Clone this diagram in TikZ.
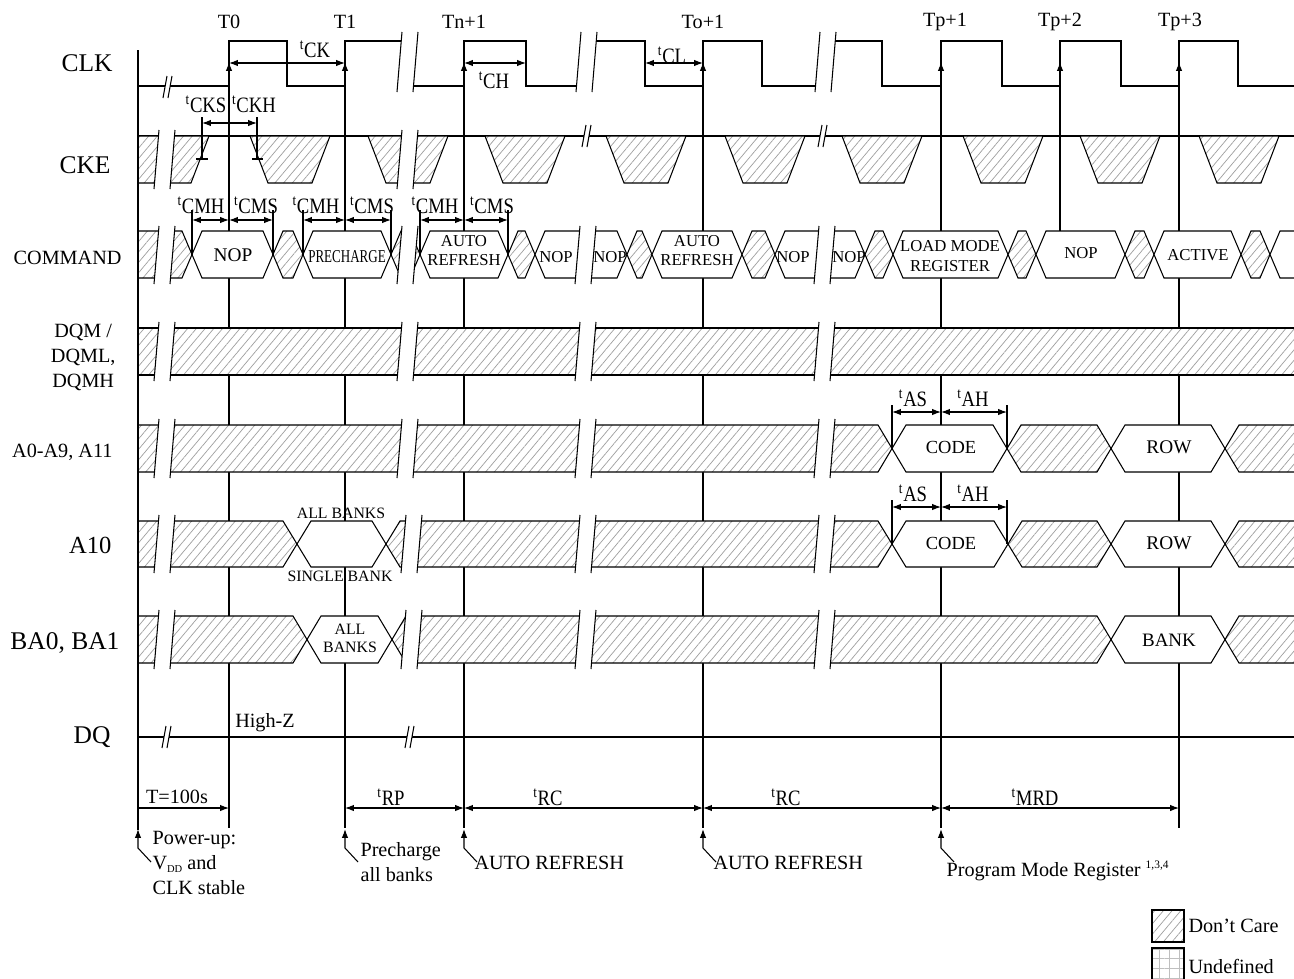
\documentclass[tikz,border=0pt]{standalone}
\usepackage{fontspec}
\setmainfont{Liberation Serif}
\usepackage{tikz}
\usetikzlibrary{
	arrows.meta,		% Arrow tips
	patterns.meta		% Hatching for don't care areas
}

% Bus segment between two crossings: left x, right x, top y, bottom y, half transition, style
\newcommand{\busseg}[6]{%
	\path[#6] (#1,{(#3+#4)/2}) -- ({#1+#5},#3) -- ({#2-#5},#3) -- (#2,{(#3+#4)/2}) -- ({#2-#5},#4) -- ({#1+#5},#4) -- cycle;
}
% Time break across a band: left x (bottom), top y, bottom y
\newcommand{\cutband}[3]{%
	\fill[white] (#1,#3) -- ({#1+16},#3) -- ({#1+21},#2) -- ({#1+5},#2) -- cycle;
	\draw[line width=0.6pt] (#1,#3) -- ({#1+5},#2) ({#1+16},#3) -- ({#1+21},#2);
}
% Time break on a single line: x, y
\newcommand{\cutline}[2]{%
	\fill[white] (#1,{#2+11}) -- ({#1+5},{#2+11}) -- ({#1+9},{#2-11}) -- ({#1+4},{#2-11}) -- cycle;
	\draw[line width=0.6pt] (#1,{#2+11}) -- ({#1+4},{#2-11}) ({#1+5},{#2+11}) -- ({#1+9},{#2-11});
}
\newcommand{\tsym}[1]{\scalebox{0.85}[1]{\textsuperscript{t}#1}}

\begin{document}
\begin{tikzpicture}[x=0.02cm, y=-0.02cm, line width=0.6pt]
	\tikzstyle{dontcare} = [draw, preaction={fill=white}, pattern={Lines[angle=50, distance=3.8pt, line width=0.4pt]}, pattern color=gray!75]
	\tikzstyle{validbus} = [draw, fill=white]
	\tikzstyle{undefbox} = [draw, preaction={fill=white}, pattern={Hatch[angle=0, distance=5.5pt, line width=0.4pt]}, pattern color=gray!50]
	\tikzstyle{clkline} = [line width=1.5pt]
	\tikzstyle{dimarrow} = [{Latex[length=5pt, width=3.6pt]}-{Latex[length=5pt, width=3.6pt]}]
	\tikzstyle{uparrow} = [-{Latex[length=5pt, width=3.6pt]}]
	\tikzstyle{sigbig} = [anchor=east, inner sep=0pt, font=\fontsize{14.5}{17}\selectfont]
	\tikzstyle{sigsmall} = [anchor=east, inner sep=0pt, align=center, font=\fontsize{11.5}{14.2}\selectfont]
	\tikzstyle{edgelbl} = [inner sep=0pt, font=\fontsize{11.5}{14}\selectfont]
	\tikzstyle{tlbl} = [inner sep=0pt, font=\fontsize{12.5}{14}\selectfont]
	\tikzstyle{cmdtxt} = [inner sep=0pt, align=center, font=\fontsize{9.5}{10.8}\selectfont]
	\tikzstyle{note} = [anchor=west, inner sep=0pt, align=left, font=\fontsize{11.5}{14}\selectfont]

	\useasboundingbox (0,0) rectangle (1294,978);

	% Signal names
	\node[sigbig] at (113,63) (clkName) {CLK};
	\node[sigbig] at (111,165) (ckeName) {CKE};
	\node[sigsmall] at (122,258) (cmdName) {COMMAND};
	\node[sigsmall] at (116,357) (dqmName) {DQM /\\DQML,\\DQMH};
	\node[sigsmall] at (113,452) (addrName) {A0-A9, A11};
	\node[sigbig, font=\fontsize{14}{17}\selectfont] at (112,545) (atenName) {A10};
	\node[sigbig] at (120,643) (baName) {BA0, BA1};
	\node[sigbig] at (111,737) (dqName) {DQ};

	% Clock edges
	%% Reference lines
	\foreach \x in {229,345,464,703,941,1179}{
		\draw (\x,86) -- (\x,828);
	}
	\draw (1060,86) -- (1060,232);
	%% Edge names
	\foreach \x/\t [count=\i] in {229/T0, 345/T1, 464/Tn+1, 703/To+1, 945/Tp+1, 1060/Tp+2, 1180/Tp+3}{
		\node[edgelbl] at (\x,22) (edge\i) {\t};
	}

	% Waveforms
	\begin{scope}
		\clip (138,0) rectangle (1294,978);
		%% CLK
		\draw[clkline] (138,86) -- (229,86) -- (229,41) -- (287,41) -- (287,86) -- (345,86) -- (345,41) -- (405,41) -- (405,86)
			-- (464,86) -- (464,41) -- (526,41) -- (526,86) -- (585,86) -- (585,41) -- (645,41) -- (645,86) -- (703,86) -- (703,41)
			-- (762,41) -- (762,86) -- (822,86) -- (822,41) -- (882,41) -- (882,86) -- (941,86) -- (941,41) -- (1002,41) -- (1002,86)
			-- (1060,86) -- (1060,41) -- (1121,41) -- (1121,86) -- (1179,86) -- (1179,41) -- (1238,41) -- (1238,86) -- (1300,86);
		%% CKE
		\draw (138,136) -- (1300,136);
		\path[dontcare] (120,136) -- (209,136) -- (191,183) -- (120,183) -- cycle;
		\foreach \c in {290,408,525,646,765,882,1003,1120,1239}{
			\path[dontcare] ({\c-40},136) -- ({\c+40},136) -- ({\c+22},183) -- ({\c-22},183) -- cycle;
		}
		%% COMMAND
		\foreach \xa/\xb/\kind in {100/192/dontcare, 192/273/validbus, 273/303/dontcare, 303/391/validbus, 391/420/dontcare,
				420/508/validbus, 508/535/dontcare, 535/627/validbus, 627/652/dontcare, 652/742/validbus, 742/775/dontcare,
				775/865/validbus, 865/893/dontcare, 893/1008/validbus, 1008/1036/dontcare, 1036/1125/validbus,
				1125/1154/dontcare, 1154/1241/validbus, 1241/1270/dontcare, 1270/1380/validbus}{
			\busseg{\xa}{\xb}{231}{278}{10}{\kind}
		}
		%% DQM
		\path[dontcare] (120,328) rectangle (1320,375);
		%% A0-A9, A11
		\foreach \xa/\xb/\kind in {100/892/dontcare, 892/1007/validbus, 1007/1111/dontcare, 1111/1225/validbus, 1225/1380/dontcare}{
			\busseg{\xa}{\xb}{425}{472}{14}{\kind}
		}
		%% A10
		\foreach \xa/\xb/\kind in {100/297/dontcare, 297/386/validbus, 386/892/dontcare, 892/1008/validbus, 1008/1111/dontcare,
				1111/1225/validbus, 1225/1380/dontcare}{
			\busseg{\xa}{\xb}{521}{567}{14}{\kind}
		}
		%% BA0, BA1
		\foreach \xa/\xb/\kind in {100/307/dontcare, 307/392/validbus, 392/1111/dontcare, 1111/1225/validbus, 1225/1380/dontcare}{
			\busseg{\xa}{\xb}{616}{663}{14}{\kind}
		}
		%% DQ
		\draw (138,737) -- (1300,737);
	\end{scope}
	\draw (138,50) -- (138,830);

	% Time breaks
	\foreach \b in {397,576,815}{
		\cutband{\b}{32}{92}
	}
	\foreach \b in {154,397}{
		\cutband{\b}{130}{189}
	}
	\foreach \yt/\yb in {226/284, 322/381, 419/478}{
		\foreach \b in {154,397,575,814}{
			\cutband{\b}{\yt}{\yb}
		}
	}
	\foreach \yt/\yb in {515/573, 610/669}{
		\foreach \b in {154,401,575,814}{
			\cutband{\b}{\yt}{\yb}
		}
	}
	\cutline{163}{87}
	\cutline{582}{136}
	\cutline{818}{136}
	\cutline{162}{737}
	\cutline{405}{737}

	% Rising edge markers
	\foreach \x in {229,345,464,703,941,1060,1179}{
		\draw[uparrow] (\x,82) -- (\x,62);
	}

	% Bus contents
	\node[cmdtxt, font=\fontsize{11}{12}\selectfont] at (233,255) (cmdNop) {NOP};
	\node[cmdtxt, font=\fontsize{10.3}{12}\selectfont] at (347,257) (cmdPre) {\scalebox{0.72}[1]{PRECHARGE}};
	\node[cmdtxt] at (464,251) (cmdArOne) {AUTO\\REFRESH};
	\node[cmdtxt] at (556,257) (cmdNopTwo) {NOP};
	\node[cmdtxt] at (610,257) (cmdNopThree) {NOP};
	\node[cmdtxt] at (697,251) (cmdArTwo) {AUTO\\REFRESH};
	\node[cmdtxt] at (793,257) (cmdNopFour) {NOP};
	\node[cmdtxt] at (849,257) (cmdNopFive) {NOP};
	\node[cmdtxt, font=\fontsize{9.5}{11.3}\selectfont] at (950,256) (cmdLmr) {LOAD MODE\\REGISTER};
	\node[cmdtxt] at (1081,253) (cmdNopSix) {NOP};
	\node[cmdtxt] at (1198,255) (cmdAct) {ACTIVE};
	\node[cmdtxt, font=\fontsize{10.5}{12}\selectfont] at (951,447) (addrCode) {CODE};
	\node[cmdtxt, font=\fontsize{11}{12}\selectfont] at (1169,447) (addrRow) {ROW};
	\node[cmdtxt, font=\fontsize{10.5}{12}\selectfont] at (951,543) (atenCode) {CODE};
	\node[cmdtxt, font=\fontsize{11}{12}\selectfont] at (1169,543) (atenRow) {ROW};
	\node[cmdtxt, font=\fontsize{9}{10}\selectfont] at (341,513) (atenAll) {ALL BANKS};
	\node[cmdtxt, font=\fontsize{9}{10}\selectfont] at (340,576) (atenSingle) {SINGLE BANK};
	\node[cmdtxt, font=\fontsize{9}{10.2}\selectfont] at (350,638) (baAll) {ALL\\BANKS};
	\node[cmdtxt, font=\fontsize{10.8}{12}\selectfont] at (1169,640) (baBank) {BANK};
	\node[edgelbl] at (265,723) (dqHighZ) {High-Z};

	% Clock timing
	\draw[dimarrow] (229,63) -- (345,63);
	\node[tlbl] at (315,49) (tck) {\tsym{CK}};
	\draw[dimarrow] (464,63) -- (526,63);
	\node[tlbl] at (494,80) (tch) {\tsym{CH}};
	\draw[dimarrow] (645,63) -- (703,63);
	\node[tlbl] at (672,55) (tcl) {\tsym{CL}};

	% CKE setup and hold
	\draw (202,117) -- (202,159) (196,159) -- (208,159);
	\draw (257,117) -- (257,159) (252,159) -- (263,159);
	\draw[dimarrow] (202,123) -- (257,123);
	\node[tlbl] at (206,104) (tcks) {\tsym{CKS}};
	\node[tlbl] at (254,104) (tckh) {\tsym{CKH}};

	% Command setup and hold
	\foreach \x in {192,273,303,391,420,508}{
		\draw (\x,210) -- (\x,255);
	}
	\foreach \xa/\xb in {192/229, 229/273, 303/345, 345/391, 420/464, 464/508}{
		\draw[dimarrow] (\xa,220) -- (\xb,220);
	}
	\foreach \x/\t [count=\i] in {201/CMH, 256/CMS, 316/CMH, 372/CMS, 435/CMH, 492/CMS}{
		\node[tlbl] at (\x,205) (tcm\i) {\tsym{\t}};
	}

	% Address setup and hold
	\foreach \yd/\ym [count=\i] in {412/448, 507/544}{
		\draw (892,{\yd-7}) -- (892,\ym) (1007,{\yd-7}) -- (1007,\ym);
		\draw[dimarrow] (892,\yd) -- (941,\yd);
		\draw[dimarrow] (941,\yd) -- (1007,\yd);
		\node[tlbl] at (913,{\yd-14}) (tas\i) {\tsym{AS}};
		\node[tlbl] at (973,{\yd-14}) (tah\i) {\tsym{AH}};
	}

	% Sequence timing
	\draw[uparrow] (138,808) -- (229,808);
	\node[tlbl, font=\fontsize{11.5}{14}\selectfont] at (177,797) (tpow) {T=100s};
	\draw[dimarrow] (345,808) -- (464,808);
	\node[tlbl] at (391,797) (trp) {\tsym{RP}};
	\draw[dimarrow] (464,808) -- (703,808);
	\node[tlbl] at (548,797) (trcOne) {\tsym{RC}};
	\draw[dimarrow] (703,808) -- (941,808);
	\node[tlbl] at (786,797) (trcTwo) {\tsym{RC}};
	\draw[dimarrow] (941,808) -- (1179,808);
	\node[tlbl] at (1035,797) (tmrd) {\tsym{MRD}};

	% Events
	\foreach \x in {138,345,464,703,941}{
		\draw[uparrow] ({\x+13},862) -- (\x,848) -- (\x,829);
	}
	\node[note] at (152,863) (pwrNote) {Power-up:\\V\raisebox{-0.35ex}{\fontsize{6}{7}\selectfont DD} and\\CLK stable};
	\node[note] at (360,862) (preNote) {Precharge\\all banks};
	\node[note] at (474,863) (arOneNote) {AUTO REFRESH};
	\node[note] at (713,863) (arTwoNote) {AUTO REFRESH};
	\node[note] at (946,871) (pmrNote) {Program Mode Register \textsuperscript{\fontsize{6.5}{7}\selectfont 1,3,4}};

	% Legend
	\path[dontcare] (1152,910) rectangle (1184,942);
	\node[note] at (1188,926) (dcLegend) {Don't Care};
	\path[undefbox] (1152,948) rectangle (1184,990);
	\node[note] at (1188,966) (udLegend) {Undefined};
\end{tikzpicture}
\end{document}
